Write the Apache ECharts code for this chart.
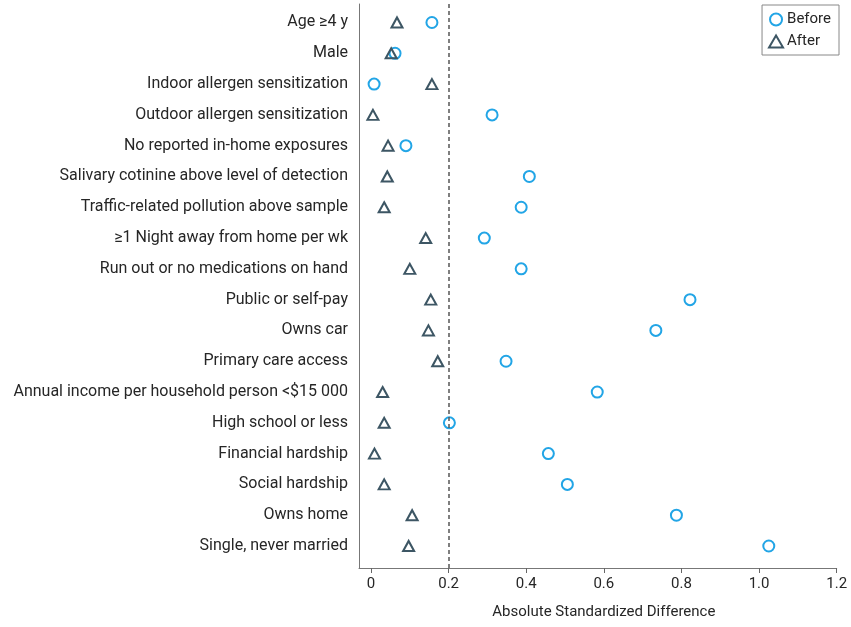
<!DOCTYPE html>
<html>
<head>
<meta charset="utf-8">
<script src="https://cdn.jsdelivr.net/npm/echarts@6/dist/echarts.min.js"></script>
<style>html,body{margin:0;padding:0;background:#fff}#c{width:851px;height:627px}</style>
</head>
<body>
<div id="c"></div>
<script>
const categories = [
  'Age ≥4 y',
  'Male',
  'Indoor allergen sensitization',
  'Outdoor allergen sensitization',
  'No reported in-home exposures',
  'Salivary cotinine above level of detection',
  'Traffic-related pollution above sample',
  '≥1 Night away from home per wk',
  'Run out or no medications on hand',
  'Public or self-pay',
  'Owns car',
  'Primary care access',
  'Annual income per household person <$15 000',
  'High school or less',
  'Financial hardship',
  'Social hardship',
  'Owns home',
  'Single, never married'
];
const beforeValues = [0.157, 0.062, 0.008, 0.312, 0.090, 0.408, 0.387, 0.292, 0.387, 0.822, 0.734, 0.348, 0.583, 0.202, 0.457, 0.506, 0.787, 1.025];
const afterValues  = [0.067, 0.052, 0.157, 0.005, 0.044, 0.042, 0.034, 0.141, 0.100, 0.154, 0.148, 0.172, 0.030, 0.034, 0.009, 0.034, 0.106, 0.097];
const xTickLabels = ['0', '0.2', '0.4', '0.6', '0.8', '1.0', '1.2'];
const thresholdValue = 0.2;

const FONT = 'Roboto';
const TXT = '#262626';
const chart = echarts.init(document.getElementById('c'), null, {renderer: 'canvas'});
chart.setOption({
  animation: false,
  backgroundColor: '#fff',
  textStyle: {fontFamily: FONT},
  grid: [
    {left: 371, right: 14.3, top: 4, bottom: 59},   // ticks / labels / threshold
    {left: 359, right: 14.3, top: 7.1, bottom: 65.6}, // points + categories
    {left: 359, right: 14.3, top: 4, bottom: 59}    // frame lines
  ],
  xAxis: [
    {
      gridIndex: 0, type: 'value', min: 0, max: 1.2, interval: 0.2,
      axisLine: {show: false},
      axisTick: {show: true, length: 5, lineStyle: {color: '#666'}},
      splitLine: {show: false},
      axisLabel: {
        color: TXT, fontSize: 15, fontFamily: FONT, margin: 9,
        formatter: v => xTickLabels[Math.round(v / 0.2)]
      },
      name: 'Absolute Standardized Difference',
      nameLocation: 'middle', nameGap: 37,
      nameTextStyle: {color: TXT, fontSize: 15, fontFamily: FONT}
    },
    {
      gridIndex: 1, type: 'value', min: -0.0309, max: 1.2,
      axisLine: {show: false}, axisTick: {show: false},
      axisLabel: {show: false}, splitLine: {show: false}
    },
    {
      gridIndex: 2, type: 'value', min: -0.0309, max: 1.2,
      axisLine: {show: true, onZero: false, lineStyle: {color: '#777', width: 1}},
      axisTick: {show: false}, axisLabel: {show: false}, splitLine: {show: false}
    }
  ],
  yAxis: [
    {
      gridIndex: 0, type: 'value', min: 0, max: 1,
      axisLine: {show: false}, axisTick: {show: false},
      axisLabel: {show: false}, splitLine: {show: false}
    },
    {
      gridIndex: 1, type: 'category', data: categories, inverse: true,
      boundaryGap: true,
      axisLine: {show: false}, axisTick: {show: false}, splitLine: {show: false},
      axisLabel: {color: TXT, fontSize: 16, fontFamily: FONT, margin: 11}
    },
    {
      gridIndex: 2, type: 'value', min: 0, max: 1,
      axisLine: {show: true, onZero: false, lineStyle: {color: '#777', width: 1}},
      axisTick: {show: false}, axisLabel: {show: false}, splitLine: {show: false}
    }
  ],
  legend: {
    orient: 'vertical', right: 12, top: 5,
    data: ['Before', 'After'],
    borderColor: '#888', borderWidth: 1, borderRadius: 0,
    padding: [7, 8, 6, 6], itemGap: 7, itemWidth: 14, itemHeight: 12,
    textStyle: {color: TXT, fontSize: 15, fontFamily: FONT, padding: [0, 0, 0, -1]}
  },
  series: [
    {
      name: 'threshold', type: 'scatter', xAxisIndex: 0, yAxisIndex: 0,
      data: [], silent: true,
      markLine: {
        silent: true, symbol: 'none', label: {show: false},
        lineStyle: {color: '#555', type: [4, 3], width: 1.5},
        data: [{xAxis: thresholdValue}]
      }
    },
    {
      name: 'Before', type: 'scatter', xAxisIndex: 1, yAxisIndex: 1,
      symbol: 'circle', symbolSize: 11,
      itemStyle: {color: '#fff', borderColor: '#22a5e6', borderWidth: 2, opacity: 1},
      data: beforeValues.map((v, i) => [v, categories[i]]),
      z: 3
    },
    {
      name: 'After', type: 'scatter', xAxisIndex: 1, yAxisIndex: 1,
      symbol: 'triangle', symbolSize: [11, 10],
      itemStyle: {color: 'rgba(255,255,255,0)', borderColor: '#3d5664', borderWidth: 2, opacity: 1},
      data: afterValues.map((v, i) => [v, categories[i]]),
      z: 4
    }
  ]
});
</script>
</body>
</html>
